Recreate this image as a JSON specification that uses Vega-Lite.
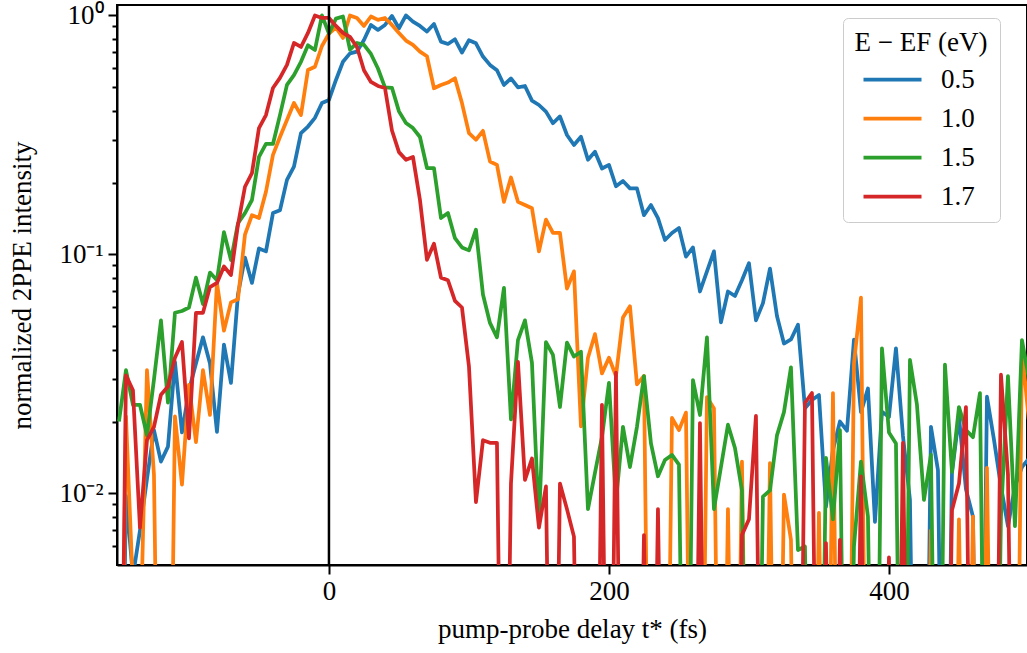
{
"$schema":"https://vega.github.io/schema/vega-lite/v6.json",
"width":910,"height":560,
"autosize":{"type":"none"},
"padding":{"left":117,"top":5,"right":0,"bottom":88},
"background":"white",
"config":{"font":"Liberation Serif","view":{"stroke":"black","strokeWidth":2}},
"datasets":{"zero":[{"t":0}]},
"data":{"values":[
{"t":-150,"E":"0.5","v":0.0001},{"t":-145,"E":"0.5","v":0.0098},{"t":-140,"E":"0.5","v":0.0045},{"t":-135,"E":"0.5","v":0.007},{"t":-130,"E":"0.5","v":0.0115},{"t":-125,"E":"0.5","v":0.0184},{"t":-120,"E":"0.5","v":0.0136},{"t":-115,"E":"0.5","v":0.0157},{"t":-110,"E":"0.5","v":0.0355},{"t":-105,"E":"0.5","v":0.018},
{"t":-100,"E":"0.5","v":0.027},{"t":-95,"E":"0.5","v":0.035},{"t":-90,"E":"0.5","v":0.045},{"t":-85,"E":"0.5","v":0.035},{"t":-80,"E":"0.5","v":0.0181},{"t":-75,"E":"0.5","v":0.042},{"t":-70,"E":"0.5","v":0.029},{"t":-65,"E":"0.5","v":0.068},{"t":-60,"E":"0.5","v":0.097},{"t":-55,"E":"0.5","v":0.076},
{"t":-50,"E":"0.5","v":0.106},{"t":-45,"E":"0.5","v":0.103},{"t":-40,"E":"0.5","v":0.149},{"t":-35,"E":"0.5","v":0.153},{"t":-30,"E":"0.5","v":0.205},{"t":-25,"E":"0.5","v":0.233},{"t":-20,"E":"0.5","v":0.322},{"t":-15,"E":"0.5","v":0.343},{"t":-10,"E":"0.5","v":0.373},{"t":-5,"E":"0.5","v":0.43},
{"t":0,"E":"0.5","v":0.443},{"t":5,"E":"0.5","v":0.537},{"t":10,"E":"0.5","v":0.64},{"t":15,"E":"0.5","v":0.694},{"t":20,"E":"0.5","v":0.706},{"t":25,"E":"0.5","v":0.79},{"t":30,"E":"0.5","v":0.913},{"t":35,"E":"0.5","v":0.87},{"t":40,"E":"0.5","v":0.913},{"t":45,"E":"0.5","v":0.995},
{"t":50,"E":"0.5","v":0.884},{"t":55,"E":"0.5","v":1.0},{"t":60,"E":"0.5","v":0.942},{"t":65,"E":"0.5","v":0.904},{"t":70,"E":"0.5","v":0.856},{"t":75,"E":"0.5","v":0.921},{"t":80,"E":"0.5","v":0.777},{"t":85,"E":"0.5","v":0.76},{"t":90,"E":"0.5","v":0.795},{"t":95,"E":"0.5","v":0.699},
{"t":100,"E":"0.5","v":0.788},{"t":105,"E":"0.5","v":0.765},{"t":110,"E":"0.5","v":0.673},{"t":115,"E":"0.5","v":0.621},{"t":120,"E":"0.5","v":0.59},{"t":125,"E":"0.5","v":0.512},{"t":130,"E":"0.5","v":0.545},{"t":135,"E":"0.5","v":0.5},{"t":140,"E":"0.5","v":0.507},{"t":145,"E":"0.5","v":0.44},
{"t":150,"E":"0.5","v":0.422},{"t":155,"E":"0.5","v":0.396},{"t":160,"E":"0.5","v":0.354},{"t":165,"E":"0.5","v":0.378},{"t":170,"E":"0.5","v":0.316},{"t":175,"E":"0.5","v":0.287},{"t":180,"E":"0.5","v":0.311},{"t":185,"E":"0.5","v":0.249},{"t":190,"E":"0.5","v":0.269},{"t":195,"E":"0.5","v":0.229},
{"t":200,"E":"0.5","v":0.237},{"t":205,"E":"0.5","v":0.193},{"t":210,"E":"0.5","v":0.203},{"t":215,"E":"0.5","v":0.189},{"t":220,"E":"0.5","v":0.189},{"t":225,"E":"0.5","v":0.146},{"t":230,"E":"0.5","v":0.161},{"t":235,"E":"0.5","v":0.142},{"t":240,"E":"0.5","v":0.115},{"t":245,"E":"0.5","v":0.123},
{"t":250,"E":"0.5","v":0.129},{"t":255,"E":"0.5","v":0.098},{"t":260,"E":"0.5","v":0.107},{"t":265,"E":"0.5","v":0.07},{"t":270,"E":"0.5","v":0.085},{"t":275,"E":"0.5","v":0.103},{"t":280,"E":"0.5","v":0.052},{"t":285,"E":"0.5","v":0.07},{"t":290,"E":"0.5","v":0.067},{"t":295,"E":"0.5","v":0.078},
{"t":300,"E":"0.5","v":0.092},{"t":305,"E":"0.5","v":0.053},{"t":310,"E":"0.5","v":0.0626},{"t":315,"E":"0.5","v":0.0873},{"t":320,"E":"0.5","v":0.0553},{"t":325,"E":"0.5","v":0.0424},{"t":330,"E":"0.5","v":0.0441},{"t":335,"E":"0.5","v":0.0508},{"t":340,"E":"0.5","v":0.0227},{"t":345,"E":"0.5","v":0.0246},
{"t":350,"E":"0.5","v":0.0258},{"t":355,"E":"0.5","v":0.0088},{"t":360,"E":"0.5","v":0.0152},{"t":365,"E":"0.5","v":0.02},{"t":370,"E":"0.5","v":0.0183},{"t":375,"E":"0.5","v":0.044},{"t":380,"E":"0.5","v":0.0219},{"t":385,"E":"0.5","v":0.0275},{"t":390,"E":"0.5","v":0.0076},{"t":395,"E":"0.5","v":0.022},
{"t":400,"E":"0.5","v":0.0209},{"t":405,"E":"0.5","v":0.0405},{"t":410,"E":"0.5","v":0.0174},{"t":415,"E":"0.5","v":0.0094},{"t":420,"E":"0.5","v":0.0001},{"t":425,"E":"0.5","v":0.0001},{"t":430,"E":"0.5","v":0.019},{"t":435,"E":"0.5","v":0.0125},{"t":440,"E":"0.5","v":0.0001},{"t":445,"E":"0.5","v":0.0122},
{"t":450,"E":"0.5","v":0.021},{"t":455,"E":"0.5","v":0.0104},{"t":460,"E":"0.5","v":0.008},{"t":465,"E":"0.5","v":0.0001},{"t":470,"E":"0.5","v":0.0254},{"t":475,"E":"0.5","v":0.0168},{"t":480,"E":"0.5","v":0.0107},{"t":485,"E":"0.5","v":0.0073},{"t":490,"E":"0.5","v":0.0107},{"t":495,"E":"0.5","v":0.0129},
{"t":500,"E":"0.5","v":0.014},
{"t":-150,"E":"1.0","v":0.0001},{"t":-145,"E":"1.0","v":0.021},{"t":-140,"E":"1.0","v":0.004},{"t":-135,"E":"1.0","v":0.002},{"t":-130,"E":"1.0","v":0.0328},{"t":-125,"E":"1.0","v":0.012},{"t":-120,"E":"1.0","v":0.0001},{"t":-115,"E":"1.0","v":0.0001},{"t":-110,"E":"1.0","v":0.021},{"t":-105,"E":"1.0","v":0.0109},
{"t":-100,"E":"1.0","v":0.0285},{"t":-95,"E":"1.0","v":0.0164},{"t":-90,"E":"1.0","v":0.0328},{"t":-85,"E":"1.0","v":0.0213},{"t":-80,"E":"1.0","v":0.076},{"t":-75,"E":"1.0","v":0.048},{"t":-70,"E":"1.0","v":0.063},{"t":-65,"E":"1.0","v":0.065},{"t":-60,"E":"1.0","v":0.121},{"t":-55,"E":"1.0","v":0.146},
{"t":-50,"E":"1.0","v":0.142},{"t":-45,"E":"1.0","v":0.183},{"t":-40,"E":"1.0","v":0.261},{"t":-35,"E":"1.0","v":0.31},{"t":-30,"E":"1.0","v":0.365},{"t":-25,"E":"1.0","v":0.43},{"t":-20,"E":"1.0","v":0.383},{"t":-15,"E":"1.0","v":0.591},{"t":-10,"E":"1.0","v":0.61},{"t":-5,"E":"1.0","v":0.745},
{"t":0,"E":"1.0","v":0.84},{"t":5,"E":"1.0","v":0.89},{"t":10,"E":"1.0","v":0.805},{"t":15,"E":"1.0","v":1.0},{"t":20,"E":"1.0","v":0.976},{"t":25,"E":"1.0","v":0.904},{"t":30,"E":"1.0","v":0.99},{"t":35,"E":"1.0","v":0.958},{"t":40,"E":"1.0","v":0.976},{"t":45,"E":"1.0","v":0.913},
{"t":50,"E":"1.0","v":0.845},{"t":55,"E":"1.0","v":0.785},{"t":60,"E":"1.0","v":0.753},{"t":65,"E":"1.0","v":0.706},{"t":70,"E":"1.0","v":0.675},{"t":75,"E":"1.0","v":0.496},{"t":80,"E":"1.0","v":0.512},{"t":85,"E":"1.0","v":0.524},{"t":90,"E":"1.0","v":0.546},{"t":95,"E":"1.0","v":0.43},
{"t":100,"E":"1.0","v":0.322},{"t":105,"E":"1.0","v":0.302},{"t":110,"E":"1.0","v":0.329},{"t":115,"E":"1.0","v":0.245},{"t":120,"E":"1.0","v":0.237},{"t":125,"E":"1.0","v":0.166},{"t":130,"E":"1.0","v":0.21},{"t":135,"E":"1.0","v":0.166},{"t":140,"E":"1.0","v":0.161},{"t":145,"E":"1.0","v":0.156},
{"t":150,"E":"1.0","v":0.103},{"t":155,"E":"1.0","v":0.14},{"t":160,"E":"1.0","v":0.123},{"t":165,"E":"1.0","v":0.123},{"t":170,"E":"1.0","v":0.072},{"t":175,"E":"1.0","v":0.085},{"t":180,"E":"1.0","v":0.0191},{"t":185,"E":"1.0","v":0.037},{"t":190,"E":"1.0","v":0.0464},{"t":195,"E":"1.0","v":0.0318},
{"t":200,"E":"1.0","v":0.037},{"t":205,"E":"1.0","v":0.031},{"t":210,"E":"1.0","v":0.0545},{"t":215,"E":"1.0","v":0.0607},{"t":220,"E":"1.0","v":0.0286},{"t":225,"E":"1.0","v":0.031},{"t":230,"E":"1.0","v":0.0001},{"t":235,"E":"1.0","v":0.0001},{"t":240,"E":"1.0","v":0.0001},{"t":245,"E":"1.0","v":0.0207},
{"t":250,"E":"1.0","v":0.0184},{"t":255,"E":"1.0","v":0.0218},{"t":260,"E":"1.0","v":0.0001},{"t":265,"E":"1.0","v":0.0001},{"t":270,"E":"1.0","v":0.0253},{"t":275,"E":"1.0","v":0.0227},{"t":280,"E":"1.0","v":0.0001},{"t":285,"E":"1.0","v":0.0086},{"t":290,"E":"1.0","v":0.0001},{"t":295,"E":"1.0","v":0.0136},
{"t":300,"E":"1.0","v":0.0001},{"t":305,"E":"1.0","v":0.0001},{"t":310,"E":"1.0","v":0.0001},{"t":315,"E":"1.0","v":0.0134},{"t":320,"E":"1.0","v":0.0001},{"t":325,"E":"1.0","v":0.0099},{"t":330,"E":"1.0","v":0.0064},{"t":335,"E":"1.0","v":0.0001},{"t":340,"E":"1.0","v":0.0001},{"t":345,"E":"1.0","v":0.0001},
{"t":350,"E":"1.0","v":0.0083},{"t":355,"E":"1.0","v":0.0001},{"t":360,"E":"1.0","v":0.0263},{"t":365,"E":"1.0","v":0.0001},{"t":370,"E":"1.0","v":0.0001},{"t":375,"E":"1.0","v":0.035},{"t":380,"E":"1.0","v":0.066},{"t":385,"E":"1.0","v":0.0001},{"t":390,"E":"1.0","v":0.0001},{"t":395,"E":"1.0","v":0.0001},
{"t":400,"E":"1.0","v":0.0001},{"t":405,"E":"1.0","v":0.0001},{"t":410,"E":"1.0","v":0.0065},{"t":415,"E":"1.0","v":0.0001},{"t":420,"E":"1.0","v":0.0001},{"t":425,"E":"1.0","v":0.0001},{"t":430,"E":"1.0","v":0.007},{"t":435,"E":"1.0","v":0.0001},{"t":440,"E":"1.0","v":0.0001},{"t":445,"E":"1.0","v":0.0001},
{"t":450,"E":"1.0","v":0.0078},{"t":455,"E":"1.0","v":0.0001},{"t":460,"E":"1.0","v":0.008},{"t":465,"E":"1.0","v":0.0001},{"t":470,"E":"1.0","v":0.0128},{"t":475,"E":"1.0","v":0.0001},{"t":480,"E":"1.0","v":0.0001},{"t":485,"E":"1.0","v":0.0001},{"t":490,"E":"1.0","v":0.0001},{"t":495,"E":"1.0","v":0.04},
{"t":500,"E":"1.0","v":0.02},
{"t":-150,"E":"1.5","v":0.02},{"t":-145,"E":"1.5","v":0.0328},{"t":-140,"E":"1.5","v":0.0235},{"t":-135,"E":"1.5","v":0.0235},{"t":-130,"E":"1.5","v":0.0175},{"t":-125,"E":"1.5","v":0.03},{"t":-120,"E":"1.5","v":0.053},{"t":-115,"E":"1.5","v":0.024},{"t":-110,"E":"1.5","v":0.057},{"t":-105,"E":"1.5","v":0.058},
{"t":-100,"E":"1.5","v":0.06},{"t":-95,"E":"1.5","v":0.08},{"t":-90,"E":"1.5","v":0.062},{"t":-85,"E":"1.5","v":0.084},{"t":-80,"E":"1.5","v":0.078},{"t":-75,"E":"1.5","v":0.124},{"t":-70,"E":"1.5","v":0.0948},{"t":-65,"E":"1.5","v":0.135},{"t":-60,"E":"1.5","v":0.149},{"t":-55,"E":"1.5","v":0.169},
{"t":-50,"E":"1.5","v":0.256},{"t":-45,"E":"1.5","v":0.29},{"t":-40,"E":"1.5","v":0.29},{"t":-35,"E":"1.5","v":0.383},{"t":-30,"E":"1.5","v":0.512},{"t":-25,"E":"1.5","v":0.563},{"t":-20,"E":"1.5","v":0.64},{"t":-15,"E":"1.5","v":0.75},{"t":-10,"E":"1.5","v":0.717},{"t":-5,"E":"1.5","v":1.0},
{"t":0,"E":"1.5","v":0.84},{"t":5,"E":"1.5","v":0.97},{"t":10,"E":"1.5","v":0.99},{"t":15,"E":"1.5","v":0.72},{"t":20,"E":"1.5","v":0.767},{"t":25,"E":"1.5","v":0.753},{"t":30,"E":"1.5","v":0.69},{"t":35,"E":"1.5","v":0.6},{"t":40,"E":"1.5","v":0.5},{"t":45,"E":"1.5","v":0.498},
{"t":50,"E":"1.5","v":0.397},{"t":55,"E":"1.5","v":0.355},{"t":60,"E":"1.5","v":0.338},{"t":65,"E":"1.5","v":0.31},{"t":70,"E":"1.5","v":0.23},{"t":75,"E":"1.5","v":0.23},{"t":80,"E":"1.5","v":0.142},{"t":85,"E":"1.5","v":0.149},{"t":90,"E":"1.5","v":0.117},{"t":95,"E":"1.5","v":0.107},
{"t":100,"E":"1.5","v":0.104},{"t":105,"E":"1.5","v":0.127},{"t":110,"E":"1.5","v":0.068},{"t":115,"E":"1.5","v":0.0517},{"t":120,"E":"1.5","v":0.045},{"t":125,"E":"1.5","v":0.0725},{"t":130,"E":"1.5","v":0.0204},{"t":135,"E":"1.5","v":0.0438},{"t":140,"E":"1.5","v":0.053},{"t":145,"E":"1.5","v":0.0352},
{"t":150,"E":"1.5","v":0.0075},{"t":155,"E":"1.5","v":0.043},{"t":160,"E":"1.5","v":0.038},{"t":165,"E":"1.5","v":0.023},{"t":170,"E":"1.5","v":0.0428},{"t":175,"E":"1.5","v":0.0374},{"t":180,"E":"1.5","v":0.0392},{"t":185,"E":"1.5","v":0.0086},{"t":190,"E":"1.5","v":0.0122},{"t":195,"E":"1.5","v":0.0172},
{"t":200,"E":"1.5","v":0.029},{"t":205,"E":"1.5","v":0.0092},{"t":210,"E":"1.5","v":0.019},{"t":215,"E":"1.5","v":0.0129},{"t":220,"E":"1.5","v":0.019},{"t":225,"E":"1.5","v":0.031},{"t":230,"E":"1.5","v":0.0162},{"t":235,"E":"1.5","v":0.0118},{"t":240,"E":"1.5","v":0.0138},{"t":245,"E":"1.5","v":0.0145},
{"t":250,"E":"1.5","v":0.0132},{"t":255,"E":"1.5","v":0.0001},{"t":260,"E":"1.5","v":0.0298},{"t":265,"E":"1.5","v":0.0213},{"t":270,"E":"1.5","v":0.045},{"t":275,"E":"1.5","v":0.0086},{"t":280,"E":"1.5","v":0.0129},{"t":285,"E":"1.5","v":0.0194},{"t":290,"E":"1.5","v":0.0155},{"t":295,"E":"1.5","v":0.0103},
{"t":300,"E":"1.5","v":0.0001},{"t":305,"E":"1.5","v":0.0001},{"t":310,"E":"1.5","v":0.0097},{"t":315,"E":"1.5","v":0.0103},{"t":320,"E":"1.5","v":0.0175},{"t":325,"E":"1.5","v":0.0219},{"t":330,"E":"1.5","v":0.0337},{"t":335,"E":"1.5","v":0.0058},{"t":340,"E":"1.5","v":0.006},{"t":345,"E":"1.5","v":0.0001},
{"t":350,"E":"1.5","v":0.0001},{"t":355,"E":"1.5","v":0.0141},{"t":360,"E":"1.5","v":0.0078},{"t":365,"E":"1.5","v":0.0184},{"t":370,"E":"1.5","v":0.0001},{"t":375,"E":"1.5","v":0.006},{"t":380,"E":"1.5","v":0.0136},{"t":385,"E":"1.5","v":0.008},{"t":390,"E":"1.5","v":0.0001},{"t":395,"E":"1.5","v":0.0405},
{"t":400,"E":"1.5","v":0.018},{"t":405,"E":"1.5","v":0.0162},{"t":410,"E":"1.5","v":0.0001},{"t":415,"E":"1.5","v":0.0362},{"t":420,"E":"1.5","v":0.0235},{"t":425,"E":"1.5","v":0.0094},{"t":430,"E":"1.5","v":0.0145},{"t":435,"E":"1.5","v":0.0001},{"t":440,"E":"1.5","v":0.0346},{"t":445,"E":"1.5","v":0.0123},
{"t":450,"E":"1.5","v":0.023},{"t":455,"E":"1.5","v":0.0184},{"t":460,"E":"1.5","v":0.0172},{"t":465,"E":"1.5","v":0.0263},{"t":470,"E":"1.5","v":0.0001},{"t":475,"E":"1.5","v":0.0001},{"t":480,"E":"1.5","v":0.008},{"t":485,"E":"1.5","v":0.031},{"t":490,"E":"1.5","v":0.0073},{"t":495,"E":"1.5","v":0.0438},
{"t":500,"E":"1.5","v":0.03},
{"t":-150,"E":"1.7","v":0.0001},{"t":-145,"E":"1.7","v":0.0312},{"t":-140,"E":"1.7","v":0.027},{"t":-135,"E":"1.7","v":0.0072},{"t":-130,"E":"1.7","v":0.0167},{"t":-125,"E":"1.7","v":0.019},{"t":-120,"E":"1.7","v":0.0259},{"t":-115,"E":"1.7","v":0.028},{"t":-110,"E":"1.7","v":0.037},{"t":-105,"E":"1.7","v":0.043},
{"t":-100,"E":"1.7","v":0.017},{"t":-95,"E":"1.7","v":0.057},{"t":-90,"E":"1.7","v":0.057},{"t":-85,"E":"1.7","v":0.073},{"t":-80,"E":"1.7","v":0.076},{"t":-75,"E":"1.7","v":0.089},{"t":-70,"E":"1.7","v":0.082},{"t":-65,"E":"1.7","v":0.133},{"t":-60,"E":"1.7","v":0.192},{"t":-55,"E":"1.7","v":0.219},
{"t":-50,"E":"1.7","v":0.338},{"t":-45,"E":"1.7","v":0.383},{"t":-40,"E":"1.7","v":0.497},{"t":-35,"E":"1.7","v":0.548},{"t":-30,"E":"1.7","v":0.621},{"t":-25,"E":"1.7","v":0.767},{"t":-20,"E":"1.7","v":0.738},{"t":-15,"E":"1.7","v":0.845},{"t":-10,"E":"1.7","v":1.0},{"t":-5,"E":"1.7","v":0.976},
{"t":0,"E":"1.7","v":0.976},{"t":5,"E":"1.7","v":0.904},{"t":10,"E":"1.7","v":0.845},{"t":15,"E":"1.7","v":0.813},{"t":20,"E":"1.7","v":0.738},{"t":25,"E":"1.7","v":0.59},{"t":30,"E":"1.7","v":0.527},{"t":35,"E":"1.7","v":0.507},{"t":40,"E":"1.7","v":0.497},{"t":45,"E":"1.7","v":0.33},
{"t":50,"E":"1.7","v":0.268},{"t":55,"E":"1.7","v":0.249},{"t":60,"E":"1.7","v":0.256},{"t":65,"E":"1.7","v":0.169},{"t":70,"E":"1.7","v":0.095},{"t":75,"E":"1.7","v":0.111},{"t":80,"E":"1.7","v":0.08},{"t":85,"E":"1.7","v":0.078},{"t":90,"E":"1.7","v":0.064},{"t":95,"E":"1.7","v":0.06},
{"t":100,"E":"1.7","v":0.034},{"t":105,"E":"1.7","v":0.0092},{"t":110,"E":"1.7","v":0.0167},{"t":115,"E":"1.7","v":0.0163},{"t":120,"E":"1.7","v":0.0163},{"t":125,"E":"1.7","v":0.0001},{"t":130,"E":"1.7","v":0.011},{"t":135,"E":"1.7","v":0.0355},{"t":140,"E":"1.7","v":0.0114},{"t":145,"E":"1.7","v":0.014},
{"t":150,"E":"1.7","v":0.0072},{"t":155,"E":"1.7","v":0.0107},{"t":160,"E":"1.7","v":0.0001},{"t":165,"E":"1.7","v":0.011},{"t":170,"E":"1.7","v":0.0086},{"t":175,"E":"1.7","v":0.0066},{"t":180,"E":"1.7","v":0.0001},{"t":185,"E":"1.7","v":0.0001},{"t":190,"E":"1.7","v":0.0001},{"t":195,"E":"1.7","v":0.0235},
{"t":200,"E":"1.7","v":0.0001},{"t":205,"E":"1.7","v":0.032},{"t":210,"E":"1.7","v":0.0001},{"t":215,"E":"1.7","v":0.0001},{"t":220,"E":"1.7","v":0.0001},{"t":225,"E":"1.7","v":0.0067},{"t":230,"E":"1.7","v":0.0001},{"t":235,"E":"1.7","v":0.0086},{"t":240,"E":"1.7","v":0.0001},{"t":245,"E":"1.7","v":0.0001},
{"t":250,"E":"1.7","v":0.0001},{"t":255,"E":"1.7","v":0.0001},{"t":260,"E":"1.7","v":0.0001},{"t":265,"E":"1.7","v":0.0197},{"t":270,"E":"1.7","v":0.0001},{"t":275,"E":"1.7","v":0.0001},{"t":280,"E":"1.7","v":0.0001},{"t":285,"E":"1.7","v":0.0001},{"t":290,"E":"1.7","v":0.0001},{"t":295,"E":"1.7","v":0.0067},
{"t":300,"E":"1.7","v":0.0078},{"t":305,"E":"1.7","v":0.0211},{"t":310,"E":"1.7","v":0.0001},{"t":315,"E":"1.7","v":0.0001},{"t":320,"E":"1.7","v":0.0001},{"t":325,"E":"1.7","v":0.0001},{"t":330,"E":"1.7","v":0.0001},{"t":335,"E":"1.7","v":0.0001},{"t":340,"E":"1.7","v":0.0239},{"t":345,"E":"1.7","v":0.0263},
{"t":350,"E":"1.7","v":0.0001},{"t":355,"E":"1.7","v":0.0062},{"t":360,"E":"1.7","v":0.0001},{"t":365,"E":"1.7","v":0.0064},{"t":370,"E":"1.7","v":0.0001},{"t":375,"E":"1.7","v":0.0001},{"t":380,"E":"1.7","v":0.0118},{"t":385,"E":"1.7","v":0.0001},{"t":390,"E":"1.7","v":0.0001},{"t":395,"E":"1.7","v":0.0001},
{"t":400,"E":"1.7","v":0.0054},{"t":405,"E":"1.7","v":0.0001},{"t":410,"E":"1.7","v":0.0163},{"t":415,"E":"1.7","v":0.0001},{"t":420,"E":"1.7","v":0.0001},{"t":425,"E":"1.7","v":0.0001},{"t":430,"E":"1.7","v":0.0001},{"t":435,"E":"1.7","v":0.0001},{"t":440,"E":"1.7","v":0.0001},{"t":445,"E":"1.7","v":0.0085},
{"t":450,"E":"1.7","v":0.011},{"t":455,"E":"1.7","v":0.023},{"t":460,"E":"1.7","v":0.0001},{"t":465,"E":"1.7","v":0.0001},{"t":470,"E":"1.7","v":0.0001},{"t":475,"E":"1.7","v":0.0001},{"t":480,"E":"1.7","v":0.0314},{"t":485,"E":"1.7","v":0.012},{"t":490,"E":"1.7","v":0.0001},{"t":495,"E":"1.7","v":0.0001},
{"t":500,"E":"1.7","v":0.0001}
]},
"layer":[
{"mark":{"type":"line","strokeWidth":3.75,"clip":true,"strokeJoin":"round"},
 "encoding":{
  "x":{"field":"t","type":"quantitative","scale":{"domain":[-151.4,498.6],"nice":false,"zero":false},
   "axis":{"title":"pump-probe delay t* (fs)","values":[0,200,400],"format":"d","grid":false,
    "labelFontSize":27,"titleFontSize":27,"titleFontWeight":"normal","labelColor":"black","titleColor":"black",
    "tickSize":9,"tickWidth":2,"tickColor":"black","domainWidth":2,"domainColor":"black","labelPadding":4,"titlePadding":12,"labelFlush":false}},
  "y":{"field":"v","type":"quantitative","scale":{"type":"log","domain":[0.00502,1.106],"nice":false},
   "axis":{"title":"normalized 2PPE intensity","grid":false,
    "values":[0.006,0.007,0.008,0.009,0.01,0.02,0.03,0.04,0.05,0.06,0.07,0.08,0.09,0.1,0.2,0.3,0.4,0.5,0.6,0.7,0.8,0.9,1],
    "labelExpr":"datum.value == 1 ? '10⁰' : (datum.value == 0.1 ? '10⁻¹' : (datum.value == 0.01 ? '10⁻²' : ''))",
    "labelOverlap":false,
    "tickSize":{"condition":{"test":"datum.value == 1 || datum.value == 0.1 || datum.value == 0.01","value":9},"value":5},
    "labelFontSize":27,"titleFontSize":27,"titleFontWeight":"normal","labelColor":"black","titleColor":"black",
    "tickWidth":2,"tickColor":"black","domainWidth":2,"domainColor":"black","labelPadding":5,"titlePadding":22}},
  "color":{"field":"E","type":"nominal",
   "scale":{"domain":["0.5","1.0","1.5","1.7"],"range":["#1f77b4","#ff7f0e","#2ca02c","#d62728"]},
   "legend":{"title":"\u00a0E − EF (eV)\u00a0","orient":"none","legendX":726,"legendY":13,
    "fillColor":"white","strokeColor":"#cccccc","cornerRadius":5,"padding":12,
    "symbolType":"M-2,0H2","symbolSize":841,"symbolStrokeWidth":3.75,"symbolOffset":8,
    "labelFontSize":27,"titleFontSize":27,"titleFontWeight":"normal","labelColor":"black","titleColor":"black",
    "labelOffset":32,"rowPadding":9,"titlePadding":6,"titleAnchor":"middle"}}
 }},
{"data":{"name":"zero"},"mark":{"type":"rule","color":"black","strokeWidth":2.5},
 "encoding":{"x":{"field":"t","type":"quantitative"}}}
]
}
